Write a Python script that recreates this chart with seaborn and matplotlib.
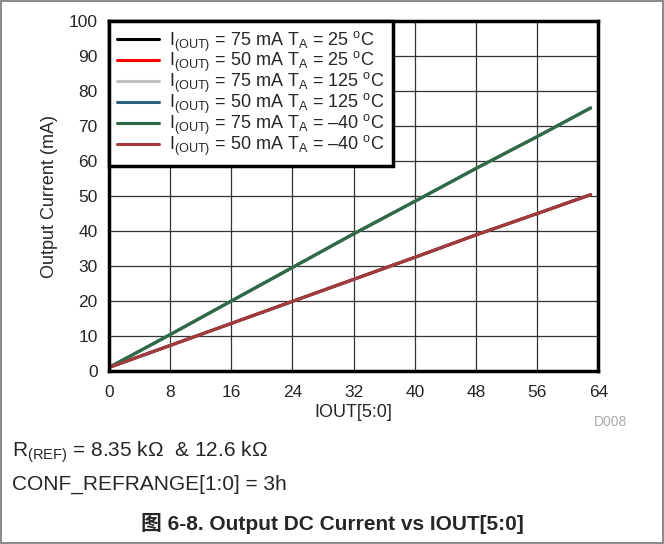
import numpy as np
import pandas as pd
import matplotlib.pyplot as plt
import seaborn as sns

sns.set_style("white")
plt.rcParams['font.family'] = ['Liberation Sans', 'Noto Sans CJK SC', 'DejaVu Sans']
plt.rcParams['mathtext.fontset'] = 'custom'
plt.rcParams['mathtext.rm'] = 'Liberation Sans'
plt.rcParams['mathtext.it'] = 'Liberation Sans:italic'
plt.rcParams['mathtext.bf'] = 'Liberation Sans:bold'

# IOUT code vs output current (mA)
code = [0, 8, 16, 24, 32, 40, 48, 56, 63]
i75 = [1.0, 10.4, 20.0, 29.6, 39.2, 48.5, 57.9, 67.0, 75.2]
i50 = [1.0, 7.3, 13.6, 19.9, 26.2, 32.5, 38.9, 45.0, 50.4]

series = [
    ("I$_{\\mathrm{(OUT)}}$ = 75 mA T$_{\\mathrm{A}}$ = 25 $^{\\mathrm{o}}$C", i75, "#000000"),
    ("I$_{\\mathrm{(OUT)}}$ = 50 mA T$_{\\mathrm{A}}$ = 25 $^{\\mathrm{o}}$C", i50, "#ff0000"),
    ("I$_{\\mathrm{(OUT)}}$ = 75 mA T$_{\\mathrm{A}}$ = 125 $^{\\mathrm{o}}$C", i75, "#c0c0c0"),
    ("I$_{\\mathrm{(OUT)}}$ = 50 mA T$_{\\mathrm{A}}$ = 125 $^{\\mathrm{o}}$C", i50, "#2b5f7e"),
    ("I$_{\\mathrm{(OUT)}}$ = 75 mA T$_{\\mathrm{A}}$ = \u201340 $^{\\mathrm{o}}$C", i75, "#2a6b46"),
    ("I$_{\\mathrm{(OUT)}}$ = 50 mA T$_{\\mathrm{A}}$ = \u201340 $^{\\mathrm{o}}$C", i50, "#a33a3c"),
]

rows = []
for name, vals, _ in series:
    for c, v in zip(code, vals):
        rows.append({"code": c, "current": v, "cond": name})
df = pd.DataFrame(rows)
palette = {name: col for name, _, col in series}

fig = plt.figure(figsize=(6.64, 5.44), dpi=100, edgecolor="#8c8c8c", linewidth=1.5)
ax = fig.add_axes([0.164, 0.318, 0.737, 0.643])
sns.lineplot(data=df, x="code", y="current", hue="cond", palette=palette,
             linewidth=2.2, ax=ax)

ax.set_xlim(0, 64)
ax.set_ylim(0, 100)
ax.set_xticks(range(0, 65, 8))
ax.set_yticks(range(0, 101, 10))
ax.grid(True, color="#333333", linewidth=0.9)
ax.set_axisbelow(True)
for s in ax.spines.values():
    s.set_linewidth(2.5)
    s.set_color("black")
ax.tick_params(labelsize=12.5, length=0)
ax.tick_params(axis="x", pad=10)
ax.tick_params(axis="y", pad=8)
ax.set_xlabel("IOUT[5:0]", fontsize=13, labelpad=3)
ax.set_ylabel("Output Current (mA)", fontsize=13, labelpad=8)

leg = ax.legend(loc="upper left", borderaxespad=0, fontsize=13, frameon=True,
                fancybox=False, handlelength=2.3, labelspacing=-0.18,
                handletextpad=0.6, borderpad=0.45)
leg.get_frame().set_edgecolor("black")
leg.get_frame().set_linewidth(2.5)
leg.get_frame().set_alpha(1)

fig.text(0.920, 0.224, "D008", fontsize=10, color="#aaaaaa", ha="center", va="center")
fig.text(0.018, 0.168, "R$_{\\mathrm{(REF)}}$ = 8.35 k$\\Omega$  & 12.6 k$\\Omega$",
         fontsize=15, ha="left", va="center")
fig.text(0.018, 0.110, "CONF_REFRANGE[1:0] = 3h", fontsize=15, ha="left", va="center")
fig.text(0.501, 0.037, "图 6-8. Output DC Current vs IOUT[5:0]", fontsize=15,
         fontweight="bold", ha="center", va="center")

fig.savefig("out.png", dpi=100)
